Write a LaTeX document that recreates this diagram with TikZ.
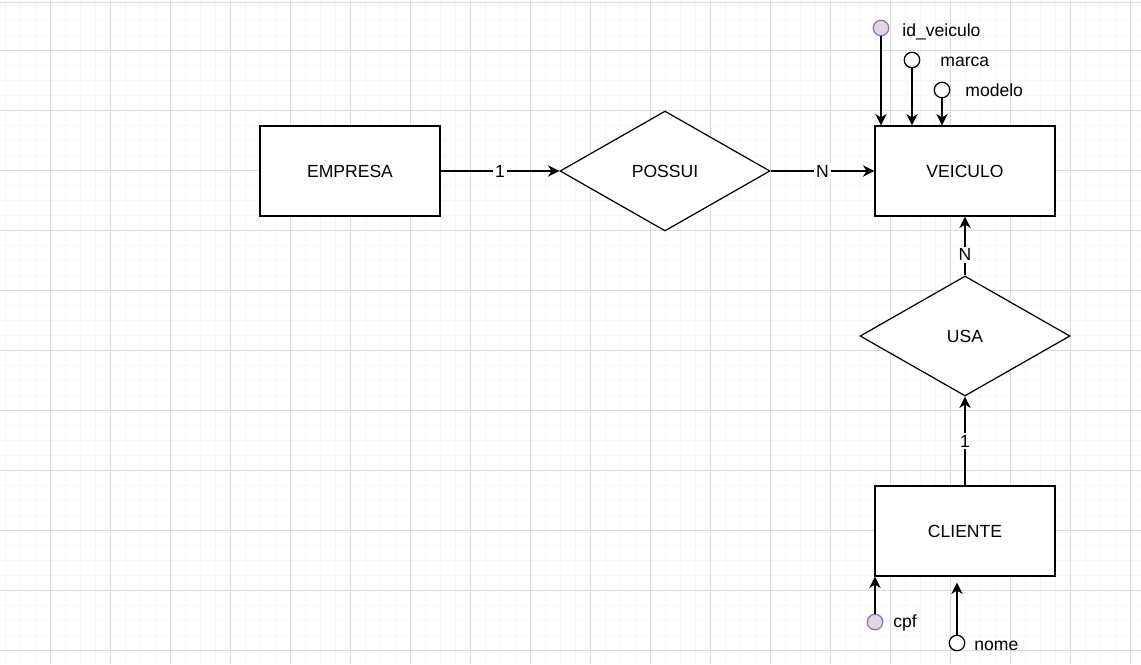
\documentclass[tikz,border=0pt]{standalone}
\usepackage{fontspec}
\setmainfont{Liberation Sans}
\usetikzlibrary{arrows.meta,positioning,shapes.geometric}

\definecolor{attrfill}{HTML}{E1D5E7}
\definecolor{attrdraw}{HTML}{9673A6}

\begin{document}
\begin{tikzpicture}[
    x=0.02cm, y=-0.02cm,
    >={Stealth[length=6.5pt,width=6.5pt,inset=2pt]},
    font=\fontsize{10}{12}\selectfont,
    % estilos do diagrama ER
    entity/.style={draw, line width=0.7pt, fill=white, minimum width=3.6cm, minimum height=1.8cm},
    relation/.style={draw, diamond, line width=0.7pt, fill=white, inner sep=0pt, minimum width=4.2cm, minimum height=2.4cm},
    attr/.style={draw, circle, line width=0.7pt, fill=white, inner sep=0pt, minimum size=0.31cm},
    keyattr/.style={attr, fill=attrfill, draw=attrdraw},
    attrname/.style={anchor=base west, inner sep=0pt},
    card/.style={fill=white, inner sep=1pt},
    conn/.style={->, line width=0.7pt},
]
    % --- fundo (grade) ---
    \useasboundingbox (0,0) rectangle (1141,664);
    \fill[white] (0,0) rectangle (1141,664);
    \foreach \gx in {5,20,...,1140} \draw[gray!6, line width=0.5pt] (\gx,0) -- (\gx,664);
    \foreach \gy in {5,20,...,663} \draw[gray!6, line width=0.5pt] (0,\gy) -- (1141,\gy);
    \foreach \gx in {50,110,...,1140} \draw[gray!28, line width=0.5pt] (\gx,0) -- (\gx,664);
    \foreach \gy in {2,50,110,...,663} \draw[gray!28, line width=0.5pt] (0,\gy) -- (1141,\gy);

    % --- entidades e relacionamentos ---
    \node[entity]   (emp)  at (350,171) {EMPRESA};
    \node[relation] (poss) at (665,171) {POSSUI};
    \node[entity]   (veic) at (965,171) {VEICULO};
    \node[relation] (usa)  at (965,336) {USA};
    \node[entity]   (cli)  at (965,531) {CLIENTE};

    % --- ligacoes ---
    \draw[conn] (emp) -- node[card] {1} (poss);
    \draw[conn] (poss) -- node[card] {N} (veic);
    \draw[conn] (usa) -- node[card, pos=0.35] {N} (veic);
    \draw[conn] (cli) -- node[card] {1} (usa);

    % --- atributos de VEICULO ---
    \node[keyattr] (idv) at (881,28) {};
    \node[attr]    (mar) at (912,60) {};
    \node[attr]    (mod) at (942,90) {};
    \node[attrname] (idvl) at (902,36) {id\_veiculo};
    \node[attrname] (marl) at (940,66) {marca};
    \node[attrname] (modl) at (965,96) {modelo};
    \draw[conn] (idv) -- (idv |- veic.north);
    \draw[conn] (mar) -- (mar |- veic.north);
    \draw[conn] (mod) -- (mod |- veic.north);

    % --- atributos de CLIENTE ---
    \node[keyattr] (cpf) at (875,622) {};
    \node[attr]    (nom) at (957,643) {};
    \node[attrname] (cpfl) at (893,627) {cpf};
    \node[attrname] (noml) at (974,650) {nome};
    \draw[conn] (cpf) -- (cpf |- cli.south);
    \draw[conn, shorten >=0.12cm] (nom) -- (nom |- cli.south);

\end{tikzpicture}
\end{document}
